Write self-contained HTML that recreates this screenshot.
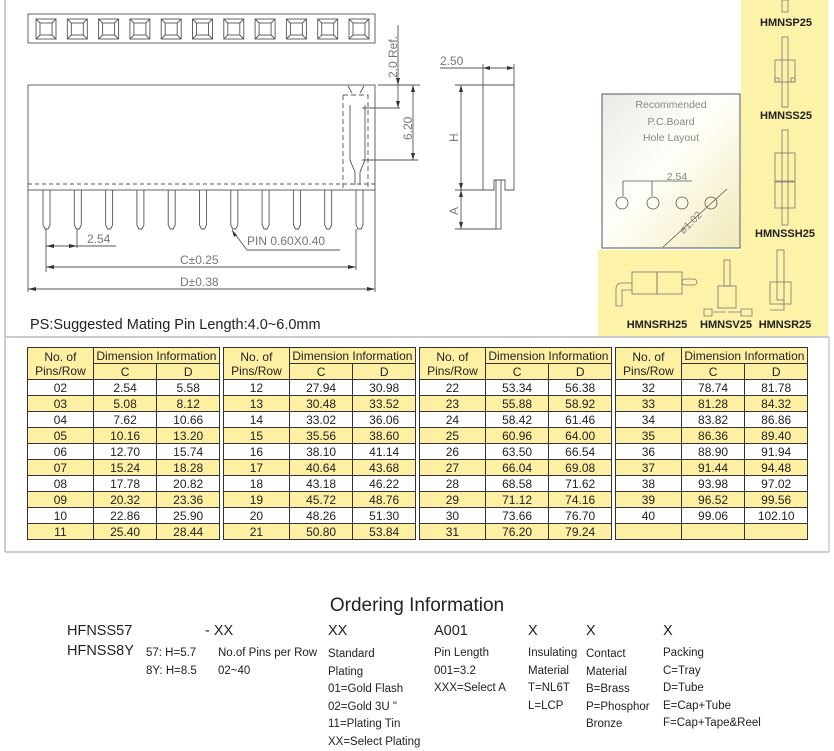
<!DOCTYPE html>
<html><head><meta charset="utf-8">
<style>
*{margin:0;padding:0;box-sizing:border-box}
body{width:834px;height:751px;background:#fff;position:relative;overflow:hidden;font-family:"Liberation Sans",Arial,sans-serif;color:#222}
svg{position:absolute;left:0;top:0}
table{position:absolute;top:347px;border-collapse:collapse;font-size:12px;text-align:center;border:1.5px solid #222}
td{border:1px solid #333;padding:0;line-height:14px;height:16px;color:#222}
tr.y td{background:#fdf0a2}
tr.h td{background:#fdf0a2}
.t{position:absolute;white-space:nowrap;color:#222}
.s{font-size:11.5px}
.b{font-size:14.5px}
</style></head><body>
<svg width="834" height="751" viewBox="0 0 834 751" font-family="Liberation Sans, Arial, sans-serif">
<!-- frame lines -->
<line x1="5" y1="0" x2="5" y2="337" stroke="#bbb" stroke-width="1.5"/>
<line x1="5" y1="337" x2="829" y2="337" stroke="#bbb" stroke-width="1.5"/>
<line x1="5" y1="337" x2="5" y2="552" stroke="#bbb" stroke-width="1.5"/>
<line x1="829" y1="337" x2="829" y2="552" stroke="#ccc" stroke-width="1.5"/>
<line x1="5" y1="552" x2="829" y2="552" stroke="#bbb" stroke-width="1.5"/>
<!-- yellow panel -->
<rect x="741" y="0" width="87" height="336" fill="#fcf2a8"/>
<rect x="598" y="250" width="145" height="86" fill="#fcf2a8"/>
<defs><linearGradient id="g" x1="0" y1="0" x2="1" y2="1"><stop offset="0" stop-color="#ebe9e2"/><stop offset="0.45" stop-color="#fffffa"/><stop offset="1" stop-color="#f1eab8"/></linearGradient></defs>
<rect x="602" y="94" width="138" height="154" fill="url(#g)" stroke="#555" stroke-width="1"/>
<g fill="#888" font-size="10.5" text-anchor="middle">
<text x="671" y="108">Recommended</text><text x="671" y="125">P.C.Board</text><text x="671" y="141">Hole  Layout</text>
<text x="677" y="180">2.54</text>
<text x="693" y="225" transform="rotate(-45 693 225)">ø1.02</text>
</g>
<g stroke="#555" stroke-width="0.8" fill="none">
<circle cx="622" cy="203" r="6"/><circle cx="653" cy="203" r="6"/><circle cx="682" cy="203" r="6"/><circle cx="711" cy="203" r="6"/>
<line x1="623" y1="181" x2="623" y2="196"/><line x1="652" y1="181" x2="652" y2="196"/>
<line x1="623" y1="181" x2="692" y2="181"/>
<line x1="663" y1="247" x2="727" y2="189"/>
</g>
<!-- connector icons -->
<g stroke="#777" stroke-width="0.8" fill="none">
<rect x="782" y="0" width="6" height="12"/>
<rect x="782" y="37" width="6" height="70"/><rect x="775" y="60" width="20" height="22"/><rect x="775" y="78" width="4" height="4"/><rect x="791" y="78" width="4" height="4"/>
<rect x="782" y="130" width="6" height="95"/><rect x="775" y="153" width="20" height="28"/><rect x="775" y="182" width="20" height="26"/>
<rect x="632" y="272" width="25" height="22"/><rect x="657" y="272" width="25" height="22"/><path d="M632 283 H622 Q616 283 616 289 V306 H622 V290 H632"/><rect x="682" y="279" width="15" height="6" rx="3"/>
<rect x="718" y="286" width="18" height="22"/><rect x="724" y="260" width="6" height="26"/><path d="M713 312 H726 M741 312 H728 M704 309 h8 v7 h-8z M741 309 h11 v7 h-11z"/>
<rect x="777" y="250" width="7" height="50"/><rect x="770" y="282" width="21" height="22"/><path d="M770 310 H784 V300"/>
</g>
<g font-size="11" font-weight="bold" fill="#222" text-anchor="middle">
<text x="786" y="26">HMNSP25</text><text x="786" y="119">HMNSS25</text><text x="785" y="237">HMNSSH25</text>
<text x="657" y="328">HMNSRH25</text><text x="726" y="328">HMNSV25</text><text x="785" y="328">HMNSR25</text>
</g>
<!-- top view strip -->
<g stroke="#555" stroke-width="0.9" fill="none">
<rect x="28" y="14" width="347" height="29"/>
<g id="sq">
<rect x="36" y="19" width="20" height="20"/><rect x="40" y="23" width="12" height="12"/>
<path d="M36 19 L40 23 M56 19 L52 23 M36 39 L40 35 M56 39 L52 35"/>
</g>
<use href="#sq" x="31.3"/><use href="#sq" x="62.6"/><use href="#sq" x="93.9"/><use href="#sq" x="125.2"/><use href="#sq" x="156.5"/><use href="#sq" x="187.8"/><use href="#sq" x="219.1"/><use href="#sq" x="250.4"/><use href="#sq" x="281.7"/><use href="#sq" x="313"/>
<!-- body -->
<rect x="28" y="85" width="347" height="105"/>
<line x1="28" y1="184" x2="375" y2="184" stroke-dasharray="4,3"/>
<g id="pin"><path d="M43 190 V225 L45 229 H48 L50 225 V190"/></g>
<use href="#pin" x="31.3"/><use href="#pin" x="62.6"/><use href="#pin" x="93.9"/><use href="#pin" x="125.2"/><use href="#pin" x="156.5"/><use href="#pin" x="187.8"/><use href="#pin" x="219.1"/><use href="#pin" x="250.4"/><use href="#pin" x="281.7"/><use href="#pin" x="313"/>
<path d="M343 95 H368 V190 M343 95 V190" stroke-dasharray="5,3"/>
<path d="M348 86 L352 93 M364 86 L360 93 M350 105 V160 L355 172 V185 M365 105 V160 L360 172 V185"/>
<!-- dims -->
<line x1="46" y1="229" x2="46" y2="272"/><line x1="77" y1="229" x2="77" y2="248"/>
<line x1="46" y1="246" x2="116" y2="246"/>
<line x1="356" y1="229" x2="356" y2="270"/>
<line x1="46" y1="267" x2="356" y2="267"/>
<line x1="28" y1="190" x2="28" y2="292"/><line x1="375" y1="190" x2="375" y2="292"/>
<line x1="28" y1="289" x2="375" y2="289"/>
<path d="M232 230 L247 250 H340"/>
<line x1="398" y1="25" x2="398" y2="108"/><line x1="378" y1="85" x2="420" y2="85"/>
<line x1="362" y1="108" x2="400" y2="108"/><line x1="413" y1="85" x2="413" y2="160"/><line x1="362" y1="160" x2="418" y2="160"/>
<!-- side view -->
<path d="M483 85 H514 V190 H505 V180 H494 V190 H483 Z"/>
<rect x="496" y="180" width="5" height="49"/>
<line x1="483" y1="64" x2="483" y2="85"/><line x1="514" y1="64" x2="514" y2="85"/>
<line x1="440" y1="68" x2="514" y2="68"/>
<line x1="455" y1="85" x2="483" y2="85"/><line x1="455" y1="190" x2="483" y2="190"/><line x1="455" y1="229" x2="496" y2="229"/>
<line x1="461" y1="85" x2="461" y2="229"/>
</g>
<g fill="#333">
<path d="M46 246 l8 -2 v4z M77 246 l-8 -2 v4z M46 267 l8 -2 v4z M356 267 l-8 -2 v4z M28 289 l8 -2 v4z M375 289 l-8 -2 v4z M232 230 l2 7 l3 -2z"/>
<path d="M398 85 l-2 -7 h4z M398 108 l-2 -7 h4z M413 85 l-2 7 h4z M413 160 l-2 -7 h4z"/>
<path d="M483 68 l7 -2 v4z M514 68 l-7 -2 v4z M461 85 l-2 7 h4z M461 190 l-2 -7 h4z M461 190 l-2 7 h4z M461 229 l-2 -7 h4z"/>
</g>
<g fill="#777" font-size="12">
<text x="87" y="243">2.54</text>
<text x="180" y="264">C±0.25</text>
<text x="180" y="286">D±0.38</text>
<text x="247" y="245">PIN  0.60X0.40</text>
<text x="397" y="78" transform="rotate(-90 397 78)">2.0  Ref.</text>
<text x="412" y="140" transform="rotate(-90 412 140)">6.20</text>
<text x="440" y="65">2.50</text>
<text x="458" y="142" transform="rotate(-90 458 142)">H</text>
<text x="458" y="215" transform="rotate(-90 458 215)">A</text>
</g>
<text x="30" y="329" font-size="14.5" fill="#222">PS:Suggested Mating Pin Length:4.0~6.0mm</text>
<text x="417" y="611" font-size="19" fill="#222" text-anchor="middle">Ordering Information</text>
</svg>

<table style="left:27px;width:193px"><colgroup><col style="width:66px"><col style="width:64px"><col style="width:63px"></colgroup>
<tr class="h"><td rowspan="2" style="line-height:14px">No. of<br>Pins/Row</td><td colspan="2">Dimension Information</td></tr>
<tr class="h"><td>C</td><td>D</td></tr>
<tr><td>02</td><td>2.54</td><td>5.58</td></tr>
<tr class="y"><td>03</td><td>5.08</td><td>8.12</td></tr>
<tr><td>04</td><td>7.62</td><td>10.66</td></tr>
<tr class="y"><td>05</td><td>10.16</td><td>13.20</td></tr>
<tr><td>06</td><td>12.70</td><td>15.74</td></tr>
<tr class="y"><td>07</td><td>15.24</td><td>18.28</td></tr>
<tr><td>08</td><td>17.78</td><td>20.82</td></tr>
<tr class="y"><td>09</td><td>20.32</td><td>23.36</td></tr>
<tr><td>10</td><td>22.86</td><td>25.90</td></tr>
<tr class="y"><td>11</td><td>25.40</td><td>28.44</td></tr>
</table>
<table style="left:223px;width:193px"><colgroup><col style="width:66px"><col style="width:64px"><col style="width:63px"></colgroup>
<tr class="h"><td rowspan="2">No. of<br>Pins/Row</td><td colspan="2">Dimension Information</td></tr>
<tr class="h"><td>C</td><td>D</td></tr>
<tr><td>12</td><td>27.94</td><td>30.98</td></tr>
<tr class="y"><td>13</td><td>30.48</td><td>33.52</td></tr>
<tr><td>14</td><td>33.02</td><td>36.06</td></tr>
<tr class="y"><td>15</td><td>35.56</td><td>38.60</td></tr>
<tr><td>16</td><td>38.10</td><td>41.14</td></tr>
<tr class="y"><td>17</td><td>40.64</td><td>43.68</td></tr>
<tr><td>18</td><td>43.18</td><td>46.22</td></tr>
<tr class="y"><td>19</td><td>45.72</td><td>48.76</td></tr>
<tr><td>20</td><td>48.26</td><td>51.30</td></tr>
<tr class="y"><td>21</td><td>50.80</td><td>53.84</td></tr>
</table>
<table style="left:419px;width:193px"><colgroup><col style="width:66px"><col style="width:64px"><col style="width:63px"></colgroup>
<tr class="h"><td rowspan="2">No. of<br>Pins/Row</td><td colspan="2">Dimension Information</td></tr>
<tr class="h"><td>C</td><td>D</td></tr>
<tr><td>22</td><td>53.34</td><td>56.38</td></tr>
<tr class="y"><td>23</td><td>55.88</td><td>58.92</td></tr>
<tr><td>24</td><td>58.42</td><td>61.46</td></tr>
<tr class="y"><td>25</td><td>60.96</td><td>64.00</td></tr>
<tr><td>26</td><td>63.50</td><td>66.54</td></tr>
<tr class="y"><td>27</td><td>66.04</td><td>69.08</td></tr>
<tr><td>28</td><td>68.58</td><td>71.62</td></tr>
<tr class="y"><td>29</td><td>71.12</td><td>74.16</td></tr>
<tr><td>30</td><td>73.66</td><td>76.70</td></tr>
<tr class="y"><td>31</td><td>76.20</td><td>79.24</td></tr>
</table>
<table style="left:615px;width:193px"><colgroup><col style="width:66px"><col style="width:64px"><col style="width:63px"></colgroup>
<tr class="h"><td rowspan="2">No. of<br>Pins/Row</td><td colspan="2">Dimension Information</td></tr>
<tr class="h"><td>C</td><td>D</td></tr>
<tr><td>32</td><td>78.74</td><td>81.78</td></tr>
<tr class="y"><td>33</td><td>81.28</td><td>84.32</td></tr>
<tr><td>34</td><td>83.82</td><td>86.86</td></tr>
<tr class="y"><td>35</td><td>86.36</td><td>89.40</td></tr>
<tr><td>36</td><td>88.90</td><td>91.94</td></tr>
<tr class="y"><td>37</td><td>91.44</td><td>94.48</td></tr>
<tr><td>38</td><td>93.98</td><td>97.02</td></tr>
<tr class="y"><td>39</td><td>96.52</td><td>99.56</td></tr>
<tr><td>40</td><td>99.06</td><td>102.10</td></tr>
<tr class="y"><td>&nbsp;</td><td></td><td></td></tr>
</table>

<div class="t b" style="left:67px;top:623px">HFNSS57</div>
<div class="t b" style="left:205px;top:623px">- XX</div>
<div class="t b" style="left:328px;top:623px">XX</div>
<div class="t b" style="left:434px;top:623px">A001</div>
<div class="t b" style="left:528px;top:623px">X</div>
<div class="t b" style="left:586px;top:623px">X</div>
<div class="t b" style="left:663px;top:623px">X</div>
<div class="t b" style="left:67px;top:643px">HFNSS8Y</div>
<div class="t s" style="left:146px;top:645px;line-height:17.5px">57: H=5.7<br>8Y: H=8.5</div>
<div class="t s" style="left:218px;top:645px;line-height:17.5px">No.of Pins per Row<br>02~40</div>
<div class="t s" style="left:328px;top:646px;line-height:17.5px">Standard<br>Plating<br>01=Gold Flash<br>02=Gold 3U "<br>11=Plating Tin<br>XX=Select Plating</div>
<div class="t s" style="left:434px;top:645px;line-height:17.5px">Pin Length<br>001=3.2<br>XXX=Select A</div>
<div class="t s" style="left:528px;top:645px;line-height:17.5px">Insulating<br>Material<br>T=NL6T<br>L=LCP</div>
<div class="t s" style="left:586px;top:646px;line-height:17.5px">Contact<br>Material<br>B=Brass<br>P=Phosphor<br>Bronze</div>
<div class="t s" style="left:663px;top:645px;line-height:17.5px">Packing<br>C=Tray<br>D=Tube<br>E=Cap+Tube<br>F=Cap+Tape&amp;Reel</div>
</body></html>
